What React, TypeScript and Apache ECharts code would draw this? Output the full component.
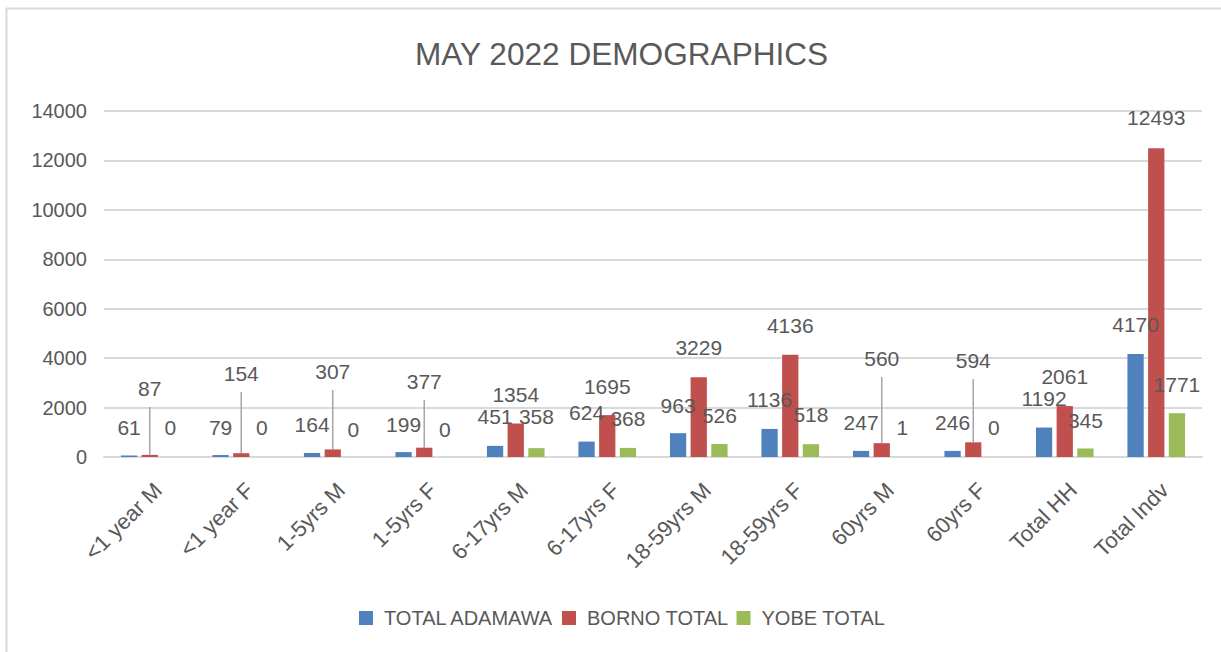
import React, { useEffect, useRef } from "react";
import * as echarts from "echarts";

const categories = [
  "<1 year M", "<1 year F", "1-5yrs M", "1-5yrs F", "6-17yrs M", "6-17yrs F",
  "18-59yrs M", "18-59yrs F", "60yrs M", "60yrs F", "Total HH", "Total Indv",
];
const adamawa = [61, 79, 164, 199, 451, 624, 963, 1136, 247, 246, 1192, 4170];
const borno = [87, 154, 307, 377, 1354, 1695, 3229, 4136, 560, 594, 2061, 12493];
const yobe = [0, 0, 0, 0, 358, 368, 526, 518, 1, 0, 345, 1771];

// Where each data label sits (in axis value units), as placed in the source chart
const labelAtAdamawa = [1174, 1174, 1295, 1295, 1619, 1781, 2104, 2307, 1416, 1416, 2347, 5342];
const labelAtBorno = [2752, 3359, 3440, 3035, 2509, 2833, 4411, 5302, 3966, 3885, 3238, 13719];
const labelAtYobe = [1174, 1174, 1093, 1093, 1619, 1538, 1659, 1700, 1174, 1174, 1497, 2914];
// Borno labels joined to their bar by a leader line
const bornoLeaderIdx = [0, 1, 2, 3, 8, 9];

const yTicks = { min: 0, max: 14000, interval: 2000 };
const seriesNames = ["TOTAL ADAMAWA", "BORNO TOTAL", "YOBE TOTAL"];
const colors = ["#4f81bd", "#c0504d", "#9bbb59"];

const FONT = "Liberation Sans";
const TEXT = "#595959";

export default function App() {
  const ref = useRef<HTMLDivElement>(null);
  useEffect(() => {
    document.body.style.margin = "0";
    const chart = echarts.init(ref.current!, null, { renderer: "svg" });
    const labelAt = [labelAtAdamawa, labelAtBorno, labelAtYobe];
    const values = [adamawa, borno, yobe];

    const barSeries = values.map((vals, si) => ({
      name: seriesNames[si],
      type: "bar",
      data: vals,
      barGap: "27%",
      barCategoryGap: "37%",
      itemStyle: { color: colors[si] },
      label: {
        show: true,
        position: "top",
        color: TEXT,
        fontFamily: FONT,
        fontSize: 21,
      },
      labelLayout: (params: any) => {
        const arr = labelAt[params.seriesIndex];
        if (!arr) return {};
        const y = chart.convertToPixel({ yAxisIndex: 0 }, arr[params.dataIndex]) as number;
        return {
          x: params.rect.x + params.rect.width / 2,
          y,
          align: "center",
          verticalAlign: "middle",
        };
      },
    }));

    const leaderData = bornoLeaderIdx.map((i) => [i, borno[i], labelAtBorno[i]]);

    chart.setOption({
      animation: false,
      textStyle: { fontFamily: FONT },
      title: {
        text: "MAY 2022 DEMOGRAPHICS",
        left: 410,
        top: 33,
        textStyle: { fontFamily: FONT, fontSize: 31.6, fontWeight: "normal", color: TEXT },
      },
      graphic: [
        { type: "line", shape: { x1: 6, y1: 8.5, x2: 1221, y2: 8.5 }, style: { stroke: "#d9d9d9", lineWidth: 2 } },
        { type: "line", shape: { x1: 6.5, y1: 8, x2: 6.5, y2: 652 }, style: { stroke: "#d9d9d9", lineWidth: 2 } },
      ],
      legend: {
        data: seriesNames,
        top: 603,
        left: 354,
        icon: "rect",
        itemWidth: 14,
        itemHeight: 14,
        itemGap: 8,
        textStyle: { fontFamily: FONT, fontSize: 20, color: TEXT, padding: [0, 0, 0, 6] },
      },
      grid: { left: 104, right: 19, top: 111, bottom: 195, containLabel: false },
      xAxis: {
        type: "category",
        data: categories,
        axisLine: { show: true, lineStyle: { color: "#d9d9d9", width: 2 } },
        axisTick: { show: false },
        axisLabel: {
          interval: 0,
          rotate: 45,
          margin: 38,
          padding: [0, -12, 0, 0],
          color: TEXT,
          fontFamily: FONT,
          fontSize: 22,
        },
      },
      yAxis: {
        type: "value",
        min: yTicks.min,
        max: yTicks.max,
        interval: yTicks.interval,
        axisLine: { show: false },
        axisTick: { show: false },
        splitLine: { lineStyle: { color: "#d9d9d9", width: 2 } },
        axisLabel: {
          color: TEXT,
          fontFamily: FONT,
          fontSize: 20,
          margin: 17,
          formatter: (v: number) => String(v),
        },
      },
      series: [
        ...barSeries,
        {
          type: "custom",
          name: "leaders",
          silent: true,
          z: 1,
          data: leaderData,
          renderItem: (params: any, api: any) => {
            const p1 = api.coord([api.value(0), api.value(1)]);
            const p2 = api.coord([api.value(0), api.value(2)]);
            return {
              type: "line",
              shape: { x1: p1[0], y1: p1[1], x2: p1[0], y2: p2[1] + 18 },
              style: { stroke: "#a6a6a6", lineWidth: 1.5 },
            };
          },
        },
      ],
    });
    return () => chart.dispose();
  }, []);
  return <div ref={ref} style={{ width: 1221, height: 652 }} />;
}
